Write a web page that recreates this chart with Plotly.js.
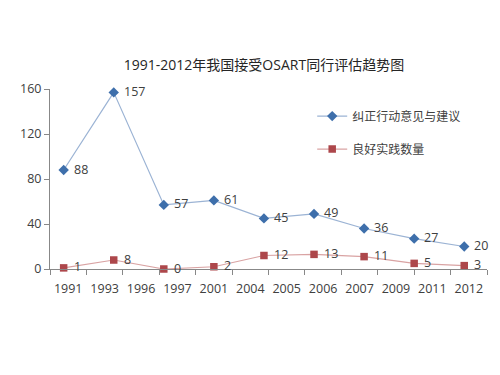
<!DOCTYPE html>
<html>
<head>
<meta charset="utf-8">
<script src="https://cdn.plot.ly/plotly-3.0.1.min.js"></script>
<style>html,body{margin:0;padding:0;background:#fff;}#chart{width:500px;height:375px;}</style>
</head>
<body>
<div id="chart"></div>
<script>
// Category labels shown on the x axis
const yearLabels = ["1991","1993","1996","1997","2001","2004","2005","2006","2007","2009","2011","2012"];
// Series values (9 points each, spread evenly across the axis)
const correctiveActions = [88, 157, 57, 61, 45, 49, 36, 27, 20];
const goodPractices = [1, 8, 0, 2, 12, 13, 11, 5, 3];
const seriesNames = ["纠正行动意见与建议", "良好实践数量"];
const titleText = "1991-2012年我国接受OSART同行评估趋势图";

const pointIndex = correctiveActions.map((_, i) => i);
const font = "'Open Sans', 'Noto Sans CJK SC', sans-serif";
const textColor = "#404040";

const traces = [
  {
    x: pointIndex, y: correctiveActions, xaxis: "x2", yaxis: "y",
    type: "scatter", mode: "lines+markers",
    name: seriesNames[0], legendgroup: "a",
    line: {color: "#9bb3d4", width: 1.2},
    marker: {symbol: "diamond", size: 8, color: "#3e6fab"},
    cliponaxis: false
  },
  {
    x: pointIndex, y: goodPractices, xaxis: "x2", yaxis: "y",
    type: "scatter", mode: "lines+markers",
    name: seriesNames[1], legendgroup: "b",
    line: {color: "#d9a3a3", width: 1.2},
    marker: {symbol: "square", size: 7.5, color: "#ad474b"},
    cliponaxis: false
  },
  {
    // invisible trace to establish the category axis
    x: yearLabels, y: yearLabels.map(() => null), xaxis: "x", yaxis: "y",
    type: "scatter", mode: "markers", showlegend: false, hoverinfo: "skip"
  }
];

const labelAnn = (vals) => vals.map((v, i) => ({
  x: pointIndex[i], y: v, xref: "x2", yref: "y", text: String(v),
  showarrow: false, xanchor: "left", yanchor: "middle", xshift: 9, yshift: 1,
  borderpad: 0,
  font: {family: font, size: 12.5, color: textColor}
}));

const n = correctiveActions.length;
const cats = yearLabels.length;
const step = (cats - 1) / (n - 1);
const offset = 0.375;
const lo = -offset / step, hi = (cats - offset) / step;

const layout = {
  width: 500, height: 375,
  margin: {l: 50, r: 13, t: 89, b: 106},
  paper_bgcolor: "#ffffff", plot_bgcolor: "#ffffff",
  font: {family: font, color: textColor, size: 12.5},
  title: {text: titleText, x: 0.528, xref: "container", xanchor: "center",
          y: 0.827, yref: "container", yanchor: "middle",
          font: {family: font, size: 14, color: "#262626"}},
  xaxis: {
    type: "category", range: [-0.5, cats - 0.5],
    categoryorder: "array", categoryarray: yearLabels,
    tickson: "boundaries", ticks: "outside", ticklen: 5, tickcolor: "#888888",
    showline: true, linecolor: "#888888", linewidth: 1, tickangle: 0,
    showgrid: false, zeroline: false, ticklabelstandoff: 8,
    tickfont: {family: font, size: 12.5, color: textColor}, fixedrange: true
  },
  xaxis2: {
    overlaying: "x", anchor: "y", range: [lo, hi], visible: false,
    showgrid: false, zeroline: false
  },
  yaxis: {
    range: [0, 160], tickvals: [0, 40, 80, 120, 160],
    ticks: "outside", ticklen: 5, tickcolor: "#888888",
    showline: true, linecolor: "#888888", linewidth: 1,
    showgrid: false, zeroline: false,
    tickfont: {family: font, size: 12.5, color: textColor}
  },
  annotations: labelAnn(correctiveActions).concat(labelAnn(goodPractices)),
  legend: {
    x: 0.6, xanchor: "left", y: 0.93, yanchor: "top",
    font: {family: font, size: 12, color: textColor},
    bgcolor: "rgba(0,0,0,0)", tracegroupgap: 14
  },
  showlegend: true
};

Plotly.newPlot("chart", traces, layout, {displayModeBar: false, staticPlot: true});
</script>
</body>
</html>
